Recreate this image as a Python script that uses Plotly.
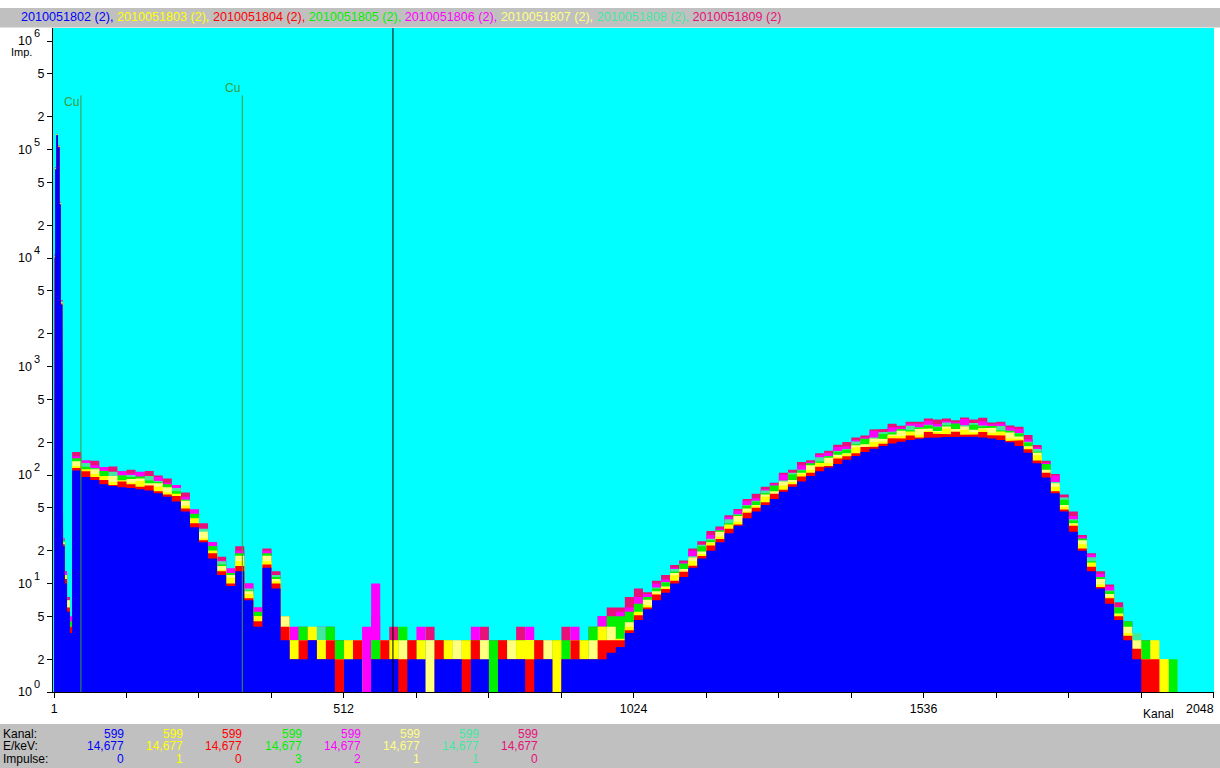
import plotly.graph_objects as go

# ---------------- data ----------------
series_labels = ["2010051802 (2)", "2010051803 (2)", "2010051804 (2)", "2010051805 (2)",
                 "2010051806 (2)", "2010051807 (2)", "2010051808 (2)", "2010051809 (2)"]
series_colors = ["#0000FF", "#FFFF00", "#FF0000", "#00F000",
                 "#FF00FF", "#FFFF80", "#40E8A0", "#E8107A"]

# channel where each histogram bin starts (fine bins over the low-energy peak, then 16-channel bins)
peak_bin_start = [1, 2, 3, 5, 8, 11, 13, 16, 17, 20, 24, 29]
cont_bin_width = 16
last_channel = 2048

s02 = [10, 10000, 65000, 135000, 105000, 31000, 3700, 180, 22, 10, 5.5, 3.5,
       110, 96, 90, 82, 79, 77, 76, 74, 72, 68,
       63, 57, 46, 33, 24, 17, 12, 9.5, 13, 7,
       4, 14, 9, 3, 2, 2, 3, 2, 2, 1,
       2, 2, 1, 2, 2, 2, 1, 2, 2, 1,
       2, 2, 2, 1, 2, 2, 1, 2, 2, 2,
       1, 2, 2, 1, 2, 2, 2, 2, 2, 2.3,
       2.6, 3.5, 4.6, 5.8, 7, 8.2, 10, 11.5, 14, 17,
       20, 24, 29, 34, 40, 46, 53, 60, 70, 78,
       87, 98, 108, 117, 126, 138, 150, 163, 175, 185,
       195, 203, 210, 216, 220, 222, 224, 225, 226, 225,
       222, 217, 210, 200, 185, 160, 128, 95, 68, 46,
       30, 20, 13, 9, 6.5, 4.6, 3, 2, 1, 1,
       1, 1, 1, 1, 1, 1]

s03 = [11, 10300, 66500, 137000, 106500, 31800, 3850, 190, 24, 12, 6, 3.5,
       121, 113, 102, 98, 86, 89, 85, 88, 80, 78,
       69, 67, 52, 40, 26, 20, 13.4, 11.3, 16, 8,
       5, 16, 10.5, 4, 3, 2, 4, 3, 2, 2,
       3, 2, 1, 2, 2, 3, 2, 2, 3, 1,
       2, 3, 2, 3, 2, 2, 1, 2, 2, 3,
       3, 2, 2, 3, 2, 2, 3, 2, 4, 3,
       3.1, 4, 5.5, 6.3, 8.1, 9.2, 11.9, 12.8, 16.1, 18.7,
       23.6, 27, 35, 37, 46, 52, 63, 67, 80, 86,
       103, 111, 130, 128, 146, 155, 179, 181, 201, 204,
       230, 229, 252, 235, 255, 249, 267, 250, 260, 248,
       262, 245, 252, 218, 215, 179, 152, 105, 78, 51,
       35, 23, 15.6, 9.8, 7.5, 5.2, 3.5, 2.5, 2, 3,
       2, 1, 1, 1, 1, 1]

s04 = [10, 10200, 66000, 136000, 106000, 31500, 3800, 185, 23, 11, 6, 4,
       116, 108, 96, 90, 81, 87, 82, 78, 80, 71,
       66, 64, 49, 36, 25, 19, 13, 10, 14.5, 7.3,
       4.5, 15, 10, 4, 2, 3, 3, 2, 3, 2,
       1, 3, 1, 2, 3, 2, 2, 3, 1, 1,
       3, 2, 2, 2, 3, 1, 1, 3, 2, 2,
       2, 3, 2, 1, 2, 3, 2, 2, 3, 3,
       3, 3.7, 5.1, 6, 7.9, 8.9, 10.6, 12.8, 14.6, 17.9,
       22.4, 25.7, 32, 35, 45, 50, 56, 67, 73, 82,
       97, 105, 119, 121, 142, 149, 159, 181, 182, 194,
       218, 217, 231, 222, 249, 240, 237, 250, 235, 236,
       249, 232, 231, 206, 209, 173, 136, 105, 71, 48,
       34, 21, 14.3, 9.3, 7.3, 5, 3.3, 2.5, 2, 2,
       1, 1, 1, 1, 1, 1]

s05 = [11, 10500, 67500, 138000, 107500, 32300, 3950, 195, 25, 12, 6.5, 4.5,
       143, 119, 115, 109, 96, 99, 96, 97, 89, 86,
       82, 71, 59, 44, 29, 22, 15, 12.5, 19, 8.6,
       5.5, 19, 11.5, 5, 3, 4, 3, 2, 4, 3,
       2, 3, 1, 3, 2, 3, 4, 2, 3, 2,
       3, 2, 2, 3, 3, 2, 3, 2, 3, 3,
       2, 3, 2, 3, 3, 2, 3, 4, 4, 5,
       5, 5.5, 6.5, 7.5, 9, 10.2, 12.8, 15.3, 17, 22,
       25, 31, 36, 43, 52, 57, 68, 80, 85, 101,
       110, 128, 133, 149, 164, 171, 192, 217, 214, 239,
       246, 266, 258, 274, 286, 275, 287, 299, 276, 290,
       280, 284, 258, 254, 241, 198, 164, 126, 83, 59,
       38, 26, 16, 11.4, 8.5, 6, 4.5, 3, 3, 2,
       2, 2, 1, 1, 1, 1]

s06 = [11, 10700, 68500, 139000, 108500, 32800, 4050, 200, 26, 13, 7, 5,
       149, 136, 123, 118, 105, 108, 103, 107, 96, 96,
       85, 81, 63, 48, 32, 24, 16.3, 13.8, 20, 10,
       6, 20, 12, 5, 4, 3, 3, 4, 3, 2,
       3, 3, 4, 10, 3, 3, 2, 3, 4, 3,
       2, 3, 2, 3, 4, 3, 3, 2, 3, 3,
       4, 3, 2, 3, 3, 4, 3, 3, 5, 5,
       5.5, 6, 7.5, 8, 10, 10.9, 14, 15.6, 20, 22.8,
       28, 32, 41, 47, 58, 61, 74, 82, 101, 105,
       123, 132, 153, 160, 181, 184, 210, 222, 254, 248,
       275, 274, 298, 296, 317, 295, 314, 306, 328, 302,
       313, 293, 298, 274, 266, 213, 179, 129, 99, 62,
       42, 27, 18.5, 12.3, 9.4, 6.1, 4.5, 3, 3, 2,
       1, 1, 1, 1, 1, 1]

s07 = [10, 10400, 67000, 137500, 107000, 32000, 3900, 190, 24, 11, 7, 4,
       134, 110, 113, 97, 98, 89, 92, 93, 84, 84,
       77, 66, 58, 39, 30, 20, 14.5, 12, 18, 8.5,
       5, 18, 11, 5, 2, 3, 2, 3, 3, 2,
       2, 3, 1, 2, 3, 2, 3, 2, 2, 3,
       2, 2, 3, 2, 2, 3, 1, 2, 3, 2,
       3, 2, 3, 2, 2, 3, 2, 3, 3, 4,
       3, 4.4, 5.4, 7.1, 8.5, 9.4, 12.5, 13.6, 17.4, 19.7,
       24, 30, 34, 42, 49, 53, 66, 71, 87, 90,
       105, 123, 126, 144, 154, 159, 188, 192, 217, 215,
       236, 256, 246, 266, 268, 255, 280, 266, 280, 261,
       269, 273, 246, 246, 226, 184, 160, 112, 84, 53,
       36, 25, 15, 11, 8, 5.3, 4, 3, 2, 2,
       2, 1, 1, 1, 1, 1]

s08 = [10, 10600, 68000, 138500, 108000, 32500, 4000, 195, 25, 12, 7, 4,
       140, 129, 116, 103, 107, 99, 100, 93, 98, 88,
       80, 76, 59, 41, 32, 22, 16, 12, 18, 9,
       5, 18, 12, 4, 3, 3, 2, 4, 3, 2,
       3, 2, 1, 3, 2, 2, 3, 3, 2, 3,
       2, 3, 3, 2, 3, 3, 2, 3, 2, 2,
       3, 2, 3, 3, 2, 3, 3, 3, 4, 4,
       4, 5, 6, 7.5, 9.2, 10.3, 13.6, 15, 17.8, 22.8,
       25.8, 30, 39, 43.5, 53, 58, 72, 78, 89, 105,
       112, 122, 146, 150, 166, 174, 204, 212, 222, 248,
       252, 254, 284, 276, 290, 280, 305, 292, 287, 301,
       286, 271, 283, 256, 244, 202, 174, 124, 86, 62,
       39, 25, 17.5, 11.5, 8.6, 6, 4, 3.5, 2, 3,
       2, 1, 1, 1, 1, 1]

s09 = [12, 10800, 69000, 140000, 109000, 33000, 4100, 205, 26, 13, 7.5, 4.5,
       163, 136, 135, 118, 120, 108, 112, 106, 109, 99,
       93, 81, 69, 48, 36, 24, 17.6, 13.6, 22, 10,
       6, 21, 13, 5, 3, 4, 3, 3, 4, 3,
       3, 2, 3, 5, 3, 4, 3, 3, 2, 4,
       3, 3, 3, 2, 3, 4, 2, 3, 3, 4,
       3, 3, 3, 2, 4, 3, 3, 4, 5, 6,
       6, 7.5, 9, 8.3, 10.6, 12, 14.8, 16.3, 21, 24.5,
       30.4, 33.6, 42.6, 48.6, 60, 67, 78, 85, 105, 112,
       132, 137, 159, 167, 190, 201, 222, 231, 262, 266,
       296, 284, 309, 309, 332, 324, 332, 320, 339, 324,
       337, 304, 309, 286, 279, 234, 189, 135, 102, 66,
       46, 28, 19, 13, 9.8, 6.7, 4.4, 3, 2, 2,
       2, 1, 1, 1, 1, 1]

# element markers and cursor
cu_channels = [48, 333]
cu_top = 3.15e5
cursor_channel = 599

# cursor read-out table
table_row_labels = ["Kanal:", "E/keV:", "Impulse:"]
cursor_kanal = ["599", "599", "599", "599", "599", "599", "599", "599"]
cursor_energy = ["14,677", "14,677", "14,677", "14,677", "14,677", "14,677", "14,677", "14,677"]
cursor_impulse = ["0", "1", "0", "3", "2", "1", "1", "0"]

x_label_vals = [1, 512, 1024, 1536]
x_label_text = ["1", "512", "1024", "1536"]
x_minor_vals = [128, 256, 384, 640, 768, 896, 1152, 1280, 1408, 1664, 1792, 1920, 2048]
y_sub_vals = [2, 5, 20, 50, 200, 500, 2e3, 5e3, 2e4, 5e4, 2e5, 5e5]
y_sub_text = ["2", "5", "2", "5", "2", "5", "2", "5", "2", "5", "2", "5"]
y_decade_vals = [1, 10, 100, 1e3, 1e4, 1e5, 1e6]
y_decade_exp = ["0", "1", "2", "3", "4", "5", "6"]

# ---------------- layout geometry ----------------
FIG_W, FIG_H = 1220, 768
L, R, T, B = 53, 6, 28, 76
PW, PH = FIG_W - L - R, FIG_H - T - B
FONT = "Liberation Sans, Arial, sans-serif"
CYAN = "#00FFFF"
GRAY = "#C0C0C0"
CU_COLOR = "#3C9C3C"
FLOOR = 0.3


def px_x(px):
    return (px - L) / PW


def px_y(py):
    return (FIG_H - B - py) / PH


bin_start = peak_bin_start + list(range(33, last_channel + 1, cont_bin_width))


def step_polygon(values):
    edges = [s - 0.5 for s in bin_start] + [last_channel + 0.5]
    xs, ys = [edges[0]], [FLOOR]
    for i, v in enumerate(values):
        xs += [edges[i], edges[i + 1]]
        ys += [v, v]
    xs.append(edges[-1])
    ys.append(FLOOR)
    return xs, ys


all_series = [s02, s03, s04, s05, s06, s07, s08, s09]
draw_order = [7, 4, 6, 3, 5, 1, 2, 0]  # 09, 06, 08, 05, 07, 03, 04, 02 (blue last)

fig = go.Figure()
for idx in draw_order:
    xs, ys = step_polygon(all_series[idx])
    fig.add_trace(go.Scatter(x=xs, y=ys, mode="lines", fill="toself",
                             fillcolor=series_colors[idx], line=dict(width=0, color=series_colors[idx]),
                             hoverinfo="skip", showlegend=False))

# Cu marker lines
for ch in cu_channels:
    fig.add_trace(go.Scatter(x=[ch, ch], y=[FLOOR, cu_top], mode="lines",
                             line=dict(color=CU_COLOR, width=1), hoverinfo="skip", showlegend=False))

shapes = [
    dict(type="rect", xref="paper", yref="paper", x0=px_x(0), x1=px_x(FIG_W), y0=px_y(27.5), y1=px_y(8),
         fillcolor=GRAY, line=dict(width=0), layer="above"),
    dict(type="rect", xref="paper", yref="paper", x0=px_x(0), x1=px_x(FIG_W), y0=px_y(FIG_H), y1=px_y(724),
         fillcolor=GRAY, line=dict(width=0), layer="above"),
    dict(type="line", xref="x", yref="paper", x0=cursor_channel, x1=cursor_channel, y0=0, y1=1,
         line=dict(color="black", width=1), layer="above"),
]

annotations = []
parts = []
for i, (lab, col) in enumerate(zip(series_labels, series_colors)):
    sep = "," if i < len(series_labels) - 1 else ""
    parts.append(f"<span style='color:{col}'>{lab}{sep}</span>")
annotations.append(dict(xref="paper", yref="paper", x=px_x(19), y=px_y(17.5), xanchor="left", yanchor="middle",
                        text=" ".join(parts), showarrow=False, font=dict(family=FONT, size=12.6, color="black")))

# decade labels of the log axis: "10" with a raised exponent
for v, e in zip(y_decade_vals, y_decade_exp):
    ylog = len(e) and float(e)
    annotations.append(dict(xref="paper", yref="y", x=px_x(33.5), y=ylog, xanchor="right", yanchor="middle",
                            text="10", showarrow=False, font=dict(family=FONT, size=12.5, color="black")))
    annotations.append(dict(xref="paper", yref="y", x=px_x(31.5), y=ylog, xanchor="left", yanchor="middle",
                            yshift=8, text=e, showarrow=False, font=dict(family=FONT, size=11, color="black")))

annotations.append(dict(xref="x", yref="paper", x=cu_channels[0], y=px_y(102.5), xanchor="right", yanchor="middle",
                        text="Cu", showarrow=False, font=dict(family=FONT, size=12, color=CU_COLOR)))
annotations.append(dict(xref="x", yref="paper", x=cu_channels[1], y=px_y(87.5), xanchor="right", yanchor="middle",
                        text="Cu", showarrow=False, font=dict(family=FONT, size=12, color=CU_COLOR)))

annotations.append(dict(xref="paper", yref="paper", x=px_x(9), y=px_y(52), xanchor="left", yanchor="middle",
                        text="Imp.", showarrow=False, font=dict(family=FONT, size=11, color="black")))
annotations.append(dict(xref="paper", yref="paper", x=px_x(1158), y=px_y(714), xanchor="center", yanchor="middle",
                        text="Kanal", showarrow=False, font=dict(family=FONT, size=12, color="black")))
annotations.append(dict(xref="paper", yref="paper", x=px_x(1216), y=px_y(709), xanchor="right", yanchor="middle",
                        text="2048", showarrow=False, font=dict(family=FONT, size=12.4, color="black")))

row_y = [733.5, 746, 759]
col_right = [125, 184, 243, 303, 362, 421, 480, 539]
for r, lab in enumerate(table_row_labels):
    annotations.append(dict(xref="paper", yref="paper", x=px_x(1), y=px_y(row_y[r]), xanchor="left",
                            yanchor="middle", text=lab, showarrow=False,
                            font=dict(family=FONT, size=12, color="black")))
for c in range(len(series_labels)):
    for r, vals in enumerate([cursor_kanal, cursor_energy, cursor_impulse]):
        annotations.append(dict(xref="paper", yref="paper", x=px_x(col_right[c] + 1), y=px_y(row_y[r]),
                                xanchor="right", yanchor="middle", text=vals[c], showarrow=False,
                                font=dict(family=FONT, size=12, color=series_colors[c])))

fig.update_layout(
    width=FIG_W, height=FIG_H,
    margin=dict(l=L, r=R, t=T, b=B, pad=0),
    paper_bgcolor="white", plot_bgcolor=CYAN,
    showlegend=False,
    shapes=shapes, annotations=annotations,
    font=dict(family=FONT, size=12, color="black"),
    xaxis=dict(range=[-1.3, 2048.9], tickmode="array", tickvals=x_label_vals, ticktext=x_label_text,
               ticks="outside", ticklen=5, tickcolor="black", tickwidth=1,
               minor=dict(tickmode="array", tickvals=x_minor_vals, ticks="outside", ticklen=5,
                          tickcolor="black", tickwidth=1, showgrid=False),
               showline=True, linecolor="black", linewidth=1, showgrid=False, zeroline=False,
               tickfont=dict(family=FONT, size=12.4, color="black"), fixedrange=True),
    yaxis=dict(type="log", range=[0, PH / 108.5], tickmode="array", tickvals=y_sub_vals, ticktext=y_sub_text,
               ticks="outside", ticklen=5, tickcolor="black", tickwidth=1,
               minor=dict(tickmode="array", tickvals=y_decade_vals, ticks="outside", ticklen=5,
                          tickcolor="black", tickwidth=1, showgrid=False),
               showline=True, linecolor="black", linewidth=1, showgrid=False, zeroline=False,
               tickfont=dict(family=FONT, size=12.5, color="black"), fixedrange=True),
)

fig.write_html("out.html", config={"displayModeBar": False},
               post_script="document.body.style.margin='0';")
